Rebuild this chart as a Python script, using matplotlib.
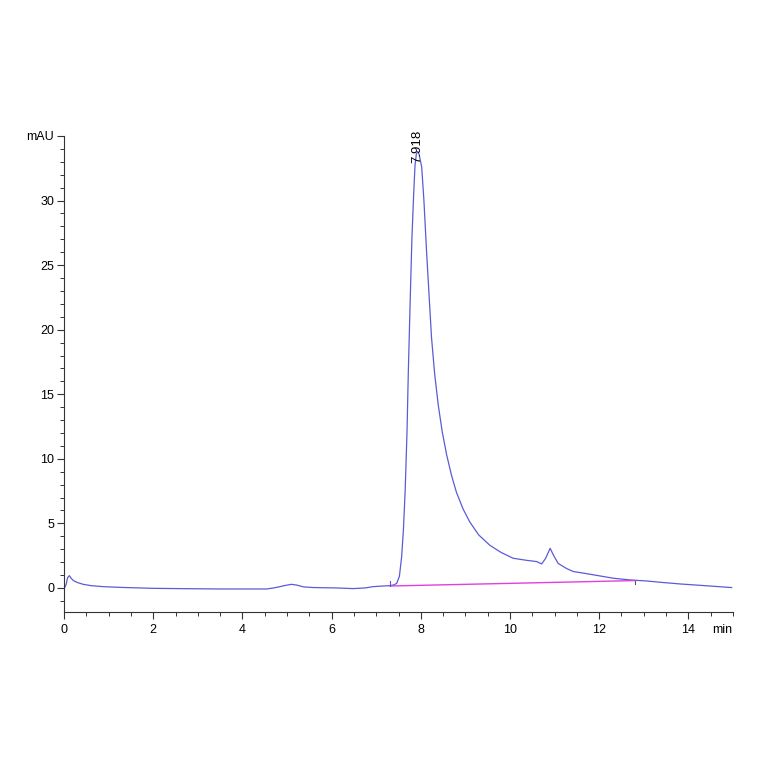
import matplotlib.pyplot as plt
from matplotlib.ticker import MultipleLocator

# chromatogram trace (min, mAU)
time = [0.0, 0.05, 0.08, 0.12, 0.16, 0.21, 0.3, 0.43, 0.6, 0.88, 1.3, 2.0, 2.8, 3.5,
        4.2, 4.54, 4.7, 4.84, 4.97, 5.1, 5.22, 5.37, 5.6, 6.1, 6.49, 6.75, 6.93, 7.1,
        7.31, 7.4, 7.46, 7.52, 7.57, 7.61, 7.65, 7.69, 7.72, 7.76, 7.80, 7.84, 7.87,
        7.90, 7.93, 7.96, 8.02, 8.07, 8.13, 8.19, 8.24, 8.31, 8.39, 8.48, 8.58, 8.69,
        8.80, 8.95, 9.10, 9.3, 9.55, 9.8, 10.07, 10.35, 10.6, 10.71, 10.8, 10.9, 10.98,
        11.08, 11.27, 11.42, 11.57, 11.9, 12.32, 12.7, 13.06, 13.4, 13.81, 14.4, 14.97]
signal = [-0.1, 0.3, 0.8, 0.95, 0.75, 0.57, 0.42, 0.28, 0.18, 0.1, 0.04, -0.03, -0.06, -0.08,
          -0.08, -0.08, 0.0, 0.1, 0.2, 0.28, 0.22, 0.08, 0.03, 0.0, -0.05, 0.0, 0.1, 0.14,
          0.18, 0.24, 0.36, 0.9, 2.4, 4.5, 7.6, 12.0, 16.7, 22.0, 27.0, 30.5, 32.7,
          33.6, 33.8, 33.6, 32.6, 30.0, 26.0, 22.4, 19.4, 16.6, 14.2, 12.1, 10.3, 8.7,
          7.4, 6.1, 5.1, 4.1, 3.3, 2.75, 2.3, 2.15, 2.04, 1.86, 2.3, 3.07, 2.5,
          1.9, 1.5, 1.27, 1.19, 1.0, 0.75, 0.62, 0.54, 0.43, 0.31, 0.17, 0.03]

# integration baseline
base_t = [7.31, 12.8]
base_v = [0.15, 0.57]

peak_rt = 7.918
peak_label = "7.918"

yticks = [0, 5, 10, 15, 20, 25, 30, 35]
ytick_labels = ['0', '5', '10', '15', '20', '25', '30', 'mAU']
xticks = [0, 2, 4, 6, 8, 10, 12, 14]

plt.rcParams['font.family'] = 'Liberation Sans'

fig = plt.figure(figsize=(7.64, 7.64), dpi=100)
ax = fig.add_axes([0.0838, 0.199, 0.8756, 0.623])

ax.plot(time, signal, color='#5b5bd6', lw=0.9)
ax.plot(base_t, base_v, color='#e040e0', lw=1.0)
# peak start / end markers
ax.plot([base_t[0], base_t[0]], [base_v[0], base_v[0] + 0.4], color='#5b5bd6', lw=0.8)
ax.plot([base_t[1], base_t[1]], [base_v[1], base_v[1] - 0.3], color='#555555', lw=0.8)

ax.text(peak_rt, 32.9, peak_label, rotation=90, ha='center', va='bottom', fontsize=9.5)

ax.set_xlim(0, 15)
ax.set_ylim(-1.86, 35)
ax.set_xticks(xticks)
ax.set_yticks(yticks)
ax.set_yticklabels(ytick_labels)
ax.xaxis.set_minor_locator(MultipleLocator(0.5))
ax.yaxis.set_minor_locator(MultipleLocator(1))

for s in ['top', 'right']:
    ax.spines[s].set_visible(False)
for s in ['left', 'bottom']:
    ax.spines[s].set_linewidth(0.8)
    ax.spines[s].set_color('#333333')

ax.tick_params(which='major', length=5, width=0.8, color='#333333', labelsize=9)
ax.tick_params(which='minor', length=3, width=0.7, color='#333333')
ax.tick_params(axis='y', pad=2)
ax.tick_params(axis='x', pad=4)

# axis unit for time, sitting on the tick label row
ax.annotate('min', xy=(14.75, 0), xycoords=('data', 'axes fraction'),
            xytext=(0, -9), textcoords='offset points', ha='center', va='top', fontsize=9)

fig.savefig('out.png', dpi=100)
